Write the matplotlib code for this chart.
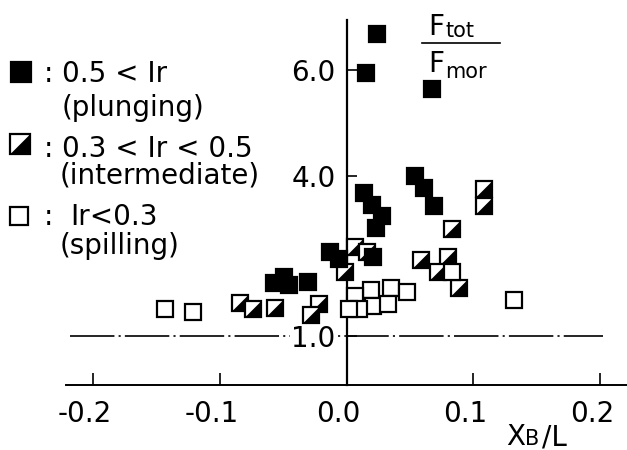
import matplotlib
matplotlib.use("Agg")
import matplotlib.pyplot as plt
import matplotlib.transforms as mtransforms
from matplotlib.lines import Line2D
from matplotlib.path import Path

# values (X_B/L, F_tot/F_mor)
plunging_x = [0.024, 0.015, 0.067, 0.014, 0.020, 0.028, 0.023, 0.054, 0.061, 0.069,
              -0.013, -0.006, 0.021, -0.057, -0.049, -0.045, -0.030]
plunging_y = [6.68, 5.94, 5.64, 3.69, 3.46, 3.26, 3.03, 4.01, 3.78, 3.44,
              2.58, 2.45, 2.48, 2.00, 2.11, 1.96, 2.02]

intermediate_x = [0.108, 0.108, 0.083, 0.059, 0.080, 0.072, 0.089, 0.007, -0.001,
                  -0.084, -0.074, -0.056, -0.022, -0.028, 0.016]
intermediate_y = [3.76, 3.44, 3.01, 2.43, 2.48, 2.20, 1.90, 2.67, 2.20,
                  1.62, 1.51, 1.53, 1.60, 1.40, 2.58]

spilling_x = [-0.143, -0.121, 0.132, 0.019, 0.035, 0.048, 0.007, 0.021, 0.033,
              0.010, 0.002, 0.083]
spilling_y = [1.51, 1.45, 1.68, 1.86, 1.90, 1.83, 1.75, 1.56, 1.60,
              1.51, 1.51, 2.20]

ref_level = 1.0
xtick_values = [-0.2, -0.1, 0.0, 0.1, 0.2]
xtick_labels = ["-0.2", "-0.1", "0.0", "0.1", "0.2"]
ytick_values = [1.0, 4.0, 6.0]
ytick_labels = ["1.0", "4.0", "6.0"]

plt.rcParams["font.family"] = ["DejaVu Sans"]
plt.rcParams["lines.scale_dashes"] = False

W, H = 627, 450
fig = plt.figure(figsize=(W / 100, H / 100), dpi=100)
ax = fig.add_axes([66 / W, 65 / H, 561 / W, 365 / H])
ax.set_xlim(-0.221, 0.221)
ax.set_ylim(0.079, 6.94)

# lower-right black triangle for the half-filled marker
tri = Path([(-1, -1), (1, -1), (1, 1), (-1, -1)],
           [Path.MOVETO, Path.LINETO, Path.LINETO, Path.CLOSEPOLY])

ms = 12
for x, y in zip(intermediate_x, intermediate_y):
    ax.plot([x], [y], ls="none", marker="s", ms=ms, mfc="white", mec="black", mew=1.6, zorder=3)
    ax.plot([x], [y], ls="none", marker=tri, ms=ms, mfc="black", mec="black", mew=0.5, zorder=3)
ax.plot(spilling_x, spilling_y, ls="none", marker="s", ms=ms, mfc="white", mec="black",
        mew=1.6, zorder=4)
ax.plot(plunging_x, plunging_y, ls="none", marker="s", ms=ms, mfc="black", mec="black",
        mew=1.6, zorder=5)

# dash-dot reference line at 1.0
ax.plot([-0.218, 0.202], [ref_level, ref_level], color="black", lw=1.2,
        dashes=(32, 3, 1.5, 3), zorder=1)

# axes look: vertical axis through x = 0
for s in ["top", "right"]:
    ax.spines[s].set_visible(False)
ax.spines["left"].set_position(("data", 0))
ax.spines["left"].set_linewidth(1.6)
ax.spines["bottom"].set_linewidth(1.4)

ax.set_xticks(xtick_values)
ax.set_xticklabels(xtick_labels, fontsize=20)
ax.set_yticks(ytick_values)
ax.set_yticklabels(ytick_labels, fontsize=20)
ax.tick_params(axis="x", direction="in", length=8.6, width=1.2, pad=11)
ax.tick_params(axis="y", direction="in", length=7, width=1.2, pad=8)

shift = mtransforms.ScaledTranslation(-0.08, 0, fig.dpi_scale_trans)
for lab in ax.get_xticklabels():
    lab.set_transform(lab.get_transform() + shift)
for lab in ax.get_yticklabels():
    lab.set_bbox(dict(facecolor="white", edgecolor="none", pad=1))


def ftext(x, y, s, **kw):
    # position in image pixels, origin top-left
    return fig.text(x / W, 1 - y / H, s, **kw)


def fmarker(x, y, **kw):
    fig.add_artist(Line2D([x / W], [1 - y / H], transform=fig.transFigure, ls="none", **kw))


# axis labels
ftext(428, 35, "F", fontsize=20, va="baseline")
ftext(445, 37, "tot", fontsize=15, va="baseline")
fig.add_artist(Line2D([422 / W, 500 / W], [1 - 43 / H, 1 - 43 / H],
                      transform=fig.transFigure, color="black", lw=1.2))
ftext(428, 72, "F", fontsize=20, va="baseline")
ftext(445, 78, "mor", fontsize=15, va="baseline")

ftext(506, 445, "X", fontsize=20, va="baseline")
ftext(525, 445, "B", fontsize=15, va="baseline")
ftext(542, 445, "/L", fontsize=20, va="baseline")

# legend in the upper left
fmarker(21, 72, marker="s", ms=14, mfc="black", mec="black", mew=1.6)
fmarker(20, 144, marker="s", ms=14, mfc="white", mec="black", mew=1.6)
fmarker(20, 144, marker=tri, ms=14, mfc="black", mec="black", mew=0.5)
fmarker(19, 216, marker="s", ms=13, mfc="white", mec="black", mew=1.6)

ftext(44, 82, ":", fontsize=20, va="baseline")
ftext(62, 82, "0.5 < Ir", fontsize=20, va="baseline")
ftext(62, 116, "(plunging)", fontsize=20, va="baseline")
ftext(44, 157, ":", fontsize=20, va="baseline")
ftext(62, 157, "0.3 < Ir < 0.5", fontsize=20, va="baseline")
ftext(60, 183, "(intermediate)", fontsize=20, va="baseline")
ftext(44, 225, ":", fontsize=20, va="baseline")
ftext(70, 225, "Ir<0.3", fontsize=20, va="baseline")
ftext(60, 254, "(spilling)", fontsize=20, va="baseline")

fig.savefig("out.png", dpi=100)
